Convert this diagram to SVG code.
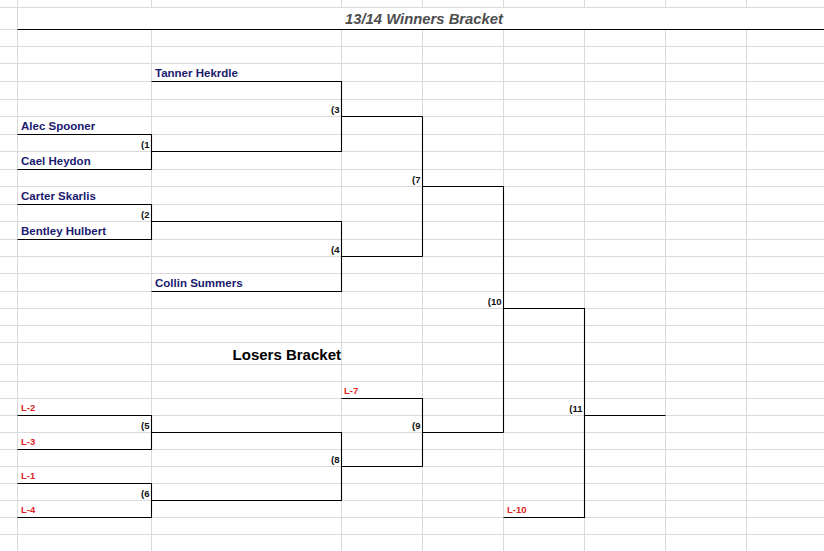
<svg xmlns="http://www.w3.org/2000/svg" width="824" height="551" viewBox="0 0 824 551">
<style>
.grid{stroke:#dadada;stroke-width:1;fill:none}
.br{stroke:#000;stroke-width:1.1;fill:none}
.name{font-family:"Liberation Sans",Arial,sans-serif;font-weight:bold;font-size:11.5px;fill:#1a1a6e}
.num{font-family:"Liberation Sans",Arial,sans-serif;font-weight:bold;font-size:9.5px;fill:#111;text-anchor:end}
.loss{font-family:"Liberation Sans",Arial,sans-serif;font-weight:bold;font-size:9.5px;fill:#e02424}
.title{font-family:"Liberation Sans",Arial,sans-serif;font-weight:bold;font-style:italic;font-size:14px;fill:#4d4d4d;text-anchor:middle}
.head{font-family:"Liberation Sans",Arial,sans-serif;font-weight:bold;font-size:15px;fill:#000;text-anchor:end}
</style>
<rect width="824" height="551" fill="#fff"/>
<g id="grid" class="grid">
<path d="M17.5 0V551"/>
<path d="M151.5 0V7.5M341.5 0V7.5M422.5 0V7.5M503.5 0V7.5M584.5 0V7.5M665.5 0V7.5M746.5 0V7.5"/>
<path d="M151.5 29.5V551M341.5 29.5V551M422.5 29.5V551M503.5 29.5V551M584.5 29.5V551M665.5 29.5V551M746.5 29.5V551"/>
<path d="M0 7.5H824M0 29.5H17.5M0 46.5H824M0 63.5H824M0 81.5H824M0 99.5H824M0 116.5H824M0 134.5H824M0 151.5H824M0 169.5H824M0 186.5H824M0 204.5H824M0 221.5H824M0 239.5H824M0 256.5H824M0 273.5H824M0 291.5H824M0 308.5H824M0 325.5H824M0 342.5H824M0 364.5H824M0 381.5H824M0 398.5H824M0 415.5H824M0 432.5H824M0 449.5H824M0 466.5H824M0 483.5H824M0 500.5H824M0 517.5H824M0 534.5H824"/>
</g>
<g id="connectors" class="br">
<path d="M17.5 29.5H824"/>
<path d="M17.5 134.5H151.5V169.5H17.5"/>
<path d="M151.5 81.5H341.5V151.5H151.5"/>
<path d="M341.5 116.5H422.5"/>
<path d="M17.5 204.5H151.5V239.5H17.5"/>
<path d="M151.5 221.5H341.5V291.5H151.5"/>
<path d="M341.5 256.5H422.5"/>
<path d="M422.5 116.5V256.5"/>
<path d="M422.5 186.5H503.5V432.5"/>
<path d="M503.5 308.5H584.5V517.5H503.5"/>
<path d="M584.5 415.5H665.5"/>
<path d="M17.5 415.5H151.5V449.5H17.5"/>
<path d="M17.5 483.5H151.5V517.5H17.5"/>
<path d="M151.5 432.5H341.5V500.5H151.5"/>
<path d="M341.5 466.5H422.5"/>
<path d="M341.5 398.5H422.5V466.5"/>
<path d="M422.5 432.5H503.5"/>
</g>
<g id="title"><text class="title" x="424" y="24" textLength="158" lengthAdjust="spacingAndGlyphs">13/14 Winners Bracket</text></g>
<g id="losers-title"><text class="head" x="341" y="359.5">Losers Bracket</text></g>
<g id="tanner"><text class="name" x="155" y="77">Tanner Hekrdle</text></g>
<g id="alec"><text class="name" x="21" y="130">Alec Spooner</text></g>
<g id="cael"><text class="name" x="21" y="165">Cael Heydon</text></g>
<g id="carter"><text class="name" x="21" y="200">Carter Skarlis</text></g>
<g id="bentley"><text class="name" x="21" y="235">Bentley Hulbert</text></g>
<g id="collin"><text class="name" x="155" y="287">Collin Summers</text></g>
<g id="m1"><text class="num" x="149.5" y="148">(1</text></g>
<g id="m2"><text class="num" x="149.5" y="217.5">(2</text></g>
<g id="m3"><text class="num" x="339.5" y="112.5">(3</text></g>
<g id="m4"><text class="num" x="339.5" y="252.5">(4</text></g>
<g id="m7"><text class="num" x="420.5" y="182.5">(7</text></g>
<g id="m10"><text class="num" x="501.5" y="304.5">(10</text></g>
<g id="m5"><text class="num" x="149.5" y="428.5">(5</text></g>
<g id="m6"><text class="num" x="149.5" y="496.5">(6</text></g>
<g id="m8"><text class="num" x="339.5" y="462.5">(8</text></g>
<g id="m9"><text class="num" x="420.5" y="428.5">(9</text></g>
<g id="m11"><text class="num" x="582.5" y="411.5">(11</text></g>
<g id="l2"><text class="loss" x="21" y="411">L-2</text></g>
<g id="l3"><text class="loss" x="21" y="445">L-3</text></g>
<g id="l1"><text class="loss" x="21" y="479">L-1</text></g>
<g id="l4"><text class="loss" x="21" y="513">L-4</text></g>
<g id="l7"><text class="loss" x="344" y="394">L-7</text></g>
<g id="l10"><text class="loss" x="507" y="512.5">L-10</text></g>
</svg>
